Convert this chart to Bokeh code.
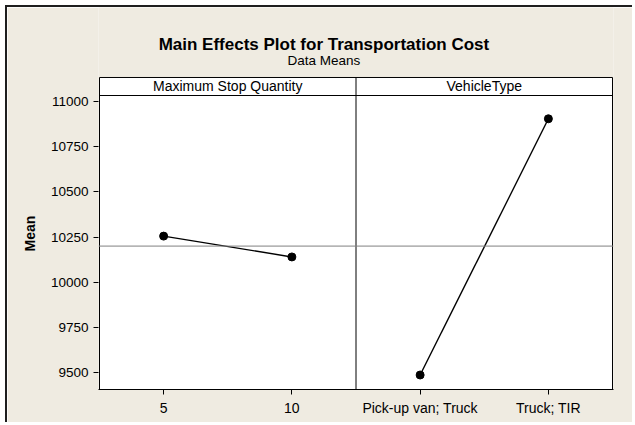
from bokeh.plotting import figure
from bokeh.models import Range1d, FixedTicker, Span
from bokeh.embed import file_html
from bokeh.resources import INLINE
from bokeh.core.properties import value

# ---- data ----
chart_title = "Main Effects Plot for Transportation Cost"
chart_subtitle = "Data Means"
y_label = "Mean"
factors = ["Maximum Stop Quantity", "VehicleType"]
msq_levels = ["5", "10"]
msq_means = [10255, 10140]
vt_levels = ["Pick-up van; Truck", "Truck; TIR"]
vt_means = [9488, 10903]
grand_mean = 10200
y_ticks = [9500, 9750, 10000, 10250, 10500, 10750, 11000]

# ---- layout constants ----
FONT = "Liberation Sans"
BEIGE = "#EFEBE1"
W, H = 627, 417
PANEL_W = 4                    # data units per panel
X_PAD = 1 / 64.125             # one pixel in x data units
Y_LOW, Y_TOP = 9408, 11517.5   # frame extends up over the title area
HEADER_TOP = 11131
HEADER_BASE = 11031.5
TITLE_Y, SUBTITLE_Y = 11313, 11225
TITLE_X = 3.50

p = figure(width=W, height=H,
           x_range=Range1d(-X_PAD, 2 * PANEL_W + X_PAD), y_range=Range1d(Y_LOW, Y_TOP),
           output_backend="svg", toolbar_location=None, title=None,
           min_border_left=91, min_border_right=21,
           min_border_top=0, min_border_bottom=35,
           background_fill_color=BEIGE, border_fill_color=BEIGE,
           outline_line_color=None)
p.styles = {"margin-left": "5px", "margin-top": "5px",
            "border-left": "2px solid #1e1e1e", "border-top": "2px solid #1e1e1e"}
p.grid.visible = False

# panel box (plot area + header strip)
p.quad(left=[0], right=[2 * PANEL_W], bottom=[Y_LOW], top=[HEADER_TOP],
       fill_color="white", line_color="black", line_width=1)

# grand mean line
p.add_layout(Span(location=grand_mean, dimension="width", line_color="#808080", line_width=1))
# header strip line and panel divider
p.segment(x0=[0], y0=[HEADER_BASE], x1=[2 * PANEL_W], y1=[HEADER_BASE],
          line_color="black", line_width=1)
p.segment(x0=[PANEL_W], y0=[Y_LOW], x1=[PANEL_W], y1=[HEADER_TOP],
          line_color="black", line_width=1)

panels = [(msq_levels, msq_means), (vt_levels, vt_means)]
tick_pos = []
overrides = {}
for i, (levels, means) in enumerate(panels):
    n = len(levels)
    xs = [int(i * PANEL_W + (j + 0.5) * PANEL_W / n) for j in range(n)]
    for x, lab in zip(xs, levels):
        tick_pos.append(x)
        overrides[x] = lab
    p.line(xs, means, line_color="black", line_width=1.4)
    p.scatter(xs, means, size=8, fill_color="black", line_color="black")

p.text(x=[PANEL_W * (i + 0.5) for i in range(len(factors))],
       y=[(HEADER_BASE + HEADER_TOP) / 2] * len(factors), text=factors,
       text_align="center", text_baseline="middle",
       text_font=value(FONT), text_font_size="14px", text_color="black")

# titles
p.text(x=[TITLE_X], y=[TITLE_Y], text=[chart_title], text_align="center",
       text_baseline="alphabetic", text_font=value(FONT), text_font_size="17px",
       text_font_style="bold", text_color="black")
p.text(x=[TITLE_X], y=[SUBTITLE_Y], text=[chart_subtitle], text_align="center",
       text_baseline="alphabetic", text_font=value(FONT), text_font_size="13.5px",
       text_color="black")

# axes
xa = p.xaxis[0]
xa.ticker = FixedTicker(ticks=tick_pos)
xa.major_label_overrides = overrides
xa.major_tick_out = 5
xa.major_tick_in = 0
xa.minor_tick_line_color = None
xa.axis_line_color = "black"
xa.major_tick_line_color = "black"
xa.major_label_standoff = 5
xa.major_label_text_font = FONT
xa.major_label_text_font_size = "14px"
xa.major_label_text_color = "black"

ya = p.yaxis[0]
ya.ticker = FixedTicker(ticks=y_ticks)
ya.major_tick_out = 5
ya.major_tick_in = 0
ya.minor_tick_line_color = None
ya.axis_line_color = None
ya.major_tick_line_color = "black"
ya.major_label_standoff = 5
ya.major_label_text_font = FONT
ya.major_label_text_font_size = "13.5px"
ya.major_label_text_color = "black"
# label centred on the panel box rather than the full-height frame
ya.axis_label = y_label + "\u00a0" * 18
ya.axis_label_text_font = FONT
ya.axis_label_text_font_style = "bold"
ya.axis_label_text_font_size = "14px"
ya.axis_label_text_color = "black"
ya.axis_label_standoff = 10

open("out.html", "w").write(file_html(p, INLINE))
